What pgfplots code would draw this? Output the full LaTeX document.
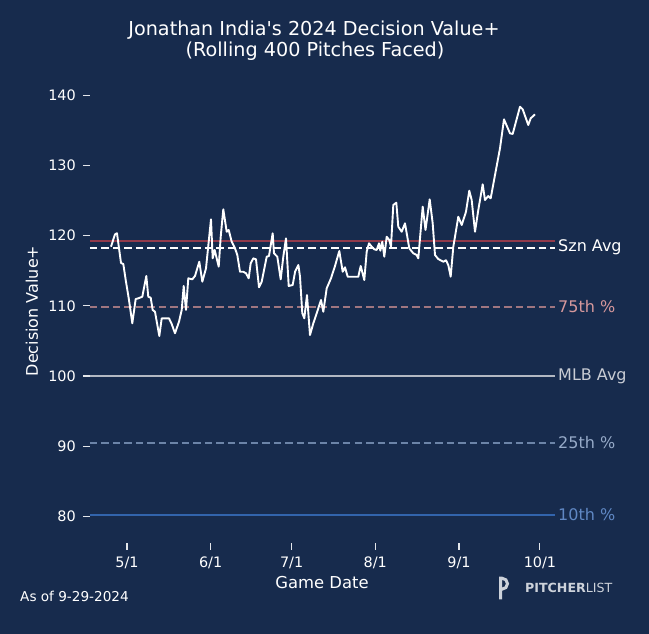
\documentclass[border=0pt]{standalone}
\usepackage{fontspec}
\setmainfont{DejaVu Sans}
\newfontfamily\titlefont{DejaVu Sans}
\usepackage{pgfplots}
\pgfplotsset{compat=1.18}
\definecolor{bg}{RGB}{23,43,77}
\definecolor{sznred}{RGB}{145,58,75}
\definecolor{p75line}{RGB}{160,118,128}
\definecolor{p75text}{RGB}{214,152,156}
\definecolor{mlbline}{RGB}{178,184,194}
\definecolor{mlbtext}{RGB}{200,204,212}
\definecolor{p25line}{RGB}{108,132,168}
\definecolor{p25text}{RGB}{150,170,200}
\definecolor{p10line}{RGB}{50,100,172}
\definecolor{p10text}{RGB}{96,136,196}
\definecolor{logogray}{RGB}{205,210,218}
\pgfplotstableread{
day val
-5.93 118.43
-4.45 120.19
-3.71 120.34
-2.22 116.10
-1.37 115.96
-0.48 113.68
0.74 110.83
1.96 107.51
3.22 110.97
4.19 111.07
5.67 111.30
7.15 114.25
7.89 111.30
8.78 111.16
9.52 109.41
10.37 109.16
11.97 105.70
12.86 108.22
15.56 108.22
16.56 107.41
17.78 106.09
19.27 107.74
20.27 109.41
21.01 112.83
21.86 109.41
22.71 113.92
24.19 113.78
25.19 114.25
26.79 116.29
27.90 113.44
29.27 115.35
31.12 122.33
31.75 116.77
32.49 117.96
33.23 116.77
33.98 115.58
34.72 119.85
35.68 123.76
36.94 120.56
37.68 120.81
38.79 119.14
40.01 118.20
40.87 117.24
41.87 114.86
43.09 114.86
44.09 114.64
45.09 113.92
45.83 116.06
46.80 116.77
47.80 116.63
48.91 112.64
49.91 113.44
51.76 117.00
52.61 117.10
53.98 120.34
54.46 117.49
55.69 117.00
56.95 113.78
57.91 117.00
58.91 119.62
59.91 112.83
61.39 112.97
62.30 114.90
63.50 115.82
64.10 114.15
64.95 108.94
65.69 108.22
66.69 111.54
67.80 105.84
69.03 107.51
70.29 108.94
71.88 110.83
72.73 109.16
73.99 112.50
75.58 113.92
77.07 115.68
78.66 117.81
79.92 114.86
80.77 115.49
81.77 114.15
85.70 114.15
86.59 115.68
87.92 113.68
88.81 117.71
89.66 118.91
90.66 118.43
91.63 118.06
92.52 117.96
93.37 118.91
93.85 117.86
94.59 119.14
95.33 117.00
96.22 119.85
97.18 119.38
97.81 118.43
98.67 124.37
99.78 124.70
100.52 121.28
101.78 120.56
103.00 121.76
104.59 118.20
106.08 117.49
107.34 117.24
107.93 116.77
109.56 124.13
110.60 120.81
112.15 125.18
113.26 121.76
114.12 117.24
115.34 116.67
117.19 116.29
118.19 116.49
119.04 115.82
119.93 114.15
120.90 118.43
121.53 119.85
122.75 122.70
124.01 121.52
125.60 123.41
126.82 126.41
127.71 125.08
128.94 120.56
130.16 123.66
131.79 127.32
132.64 125.08
133.86 125.65
134.75 125.32
136.35 128.64
138.20 132.45
139.68 136.58
141.90 134.59
142.90 134.49
145.61 138.38
146.61 138.01
148.68 135.77
149.57 136.72
151.17 137.29
}\dvdata
\begin{document}
\begin{tikzpicture}[x=1pt,y=1pt]
\fill[bg] (-90,-91) rectangle (559,543);
\begin{axis}[
  at={(0,0)}, anchor=south west,
  scale only axis, width=465pt, height=468pt,
  xmin=-13.71, xmax=158.58, ymin=76.2, ymax=142.9,
  axis x line*=bottom, axis y line*=left,
  axis line style={draw=none},
  clip=false,
  xtick={0,31,61,92,123,153},
  xticklabels={5/1,6/1,7/1,8/1,9/1,10/1},
  ytick={80,90,100,110,120,130,140},
  tick align=outside,
  major tick length=7pt,
  tick style={draw=white!88!bg, line width=1.1pt},
  /pgf/number format/assume math mode=true,
  ticklabel style={font=\fontsize{14.4}{17}\selectfont, text=white},
  yticklabel style={inner sep=0pt, xshift=-7pt},
  xticklabel style={inner sep=0pt, yshift=-6.5pt},
]
\addplot[sznred, line width=2.4pt] coordinates {(-13.71,119.24) (158.58,119.24)};
\addplot[white, line width=1.8pt, dash pattern=on 7.5pt off 4pt] coordinates {(-13.71,118.24) (158.58,118.24)};
\addplot[p75line, line width=1.8pt, dash pattern=on 7.5pt off 4pt] coordinates {(-13.71,109.85) (158.58,109.85)};
\addplot[mlbline, line width=1.8pt] coordinates {(-13.71,100) (158.58,100)};
\addplot[p25line, line width=1.8pt, dash pattern=on 7.5pt off 4pt] coordinates {(-13.71,90.5) (158.58,90.5)};
\addplot[p10line, line width=1.8pt] coordinates {(-13.71,80.2) (158.58,80.2)};
\addplot[white, line width=1.9pt, line join=round] table[x=day, y=val] {\dvdata};
\node[anchor=west, inner sep=0pt, xshift=3pt, text=white, font=\fontsize{16}{19}\selectfont] at (axis cs:158.58,118.4) {Szn Avg};
\node[anchor=west, inner sep=0pt, xshift=3pt, text=p75text, font=\fontsize{16}{19}\selectfont] at (axis cs:158.58,109.85) {75th \%};
\node[anchor=west, inner sep=0pt, xshift=3pt, text=mlbtext, font=\fontsize{16}{19}\selectfont] at (axis cs:158.58,100) {MLB Avg};
\node[anchor=west, inner sep=0pt, xshift=3pt, text=p25text, font=\fontsize{16}{19}\selectfont] at (axis cs:158.58,90.5) {25th \%};
\node[anchor=west, inner sep=0pt, xshift=3pt, text=p10text, font=\fontsize{16}{19}\selectfont] at (axis cs:158.58,80.2) {10th \%};
\end{axis}
\node[anchor=base, text=white, font=\titlefont\fontsize{19.2}{23}\selectfont, inner sep=0pt] at (224,507) {Jonathan India's 2024 Decision Value+};
\node[anchor=base, text=white, font=\fontsize{19.2}{23}\selectfont, inner sep=0pt] at (225,486.3) {(Rolling 400 Pitches Faced)};
\node[anchor=center, rotate=90, text=white, font=\fontsize{16}{19}\selectfont, inner sep=0pt] at (-58,232) {Decision Value+};
\node[anchor=base, text=white, font=\fontsize{16.4}{19}\selectfont, inner sep=0pt] at (232,-46) {Game Date};
\node[anchor=base west, text=white, font=\fontsize{13.6}{16}\selectfont, inner sep=0pt] at (-70,-59) {As of 9-29-2024};
\draw[logogray, line width=3pt] (410.5,-56.5) -- (410.5,-35.2) -- (412,-35.2) arc[start angle=90, end angle=-90, radius=5.5] -- (410.5,-46.2);
\node[anchor=base west, text=logogray, font=\fontsize{12.6}{15}\selectfont, inner sep=0pt] at (435,-50) {\textbf{PITCHER}LIST};
\end{tikzpicture}
\end{document}
